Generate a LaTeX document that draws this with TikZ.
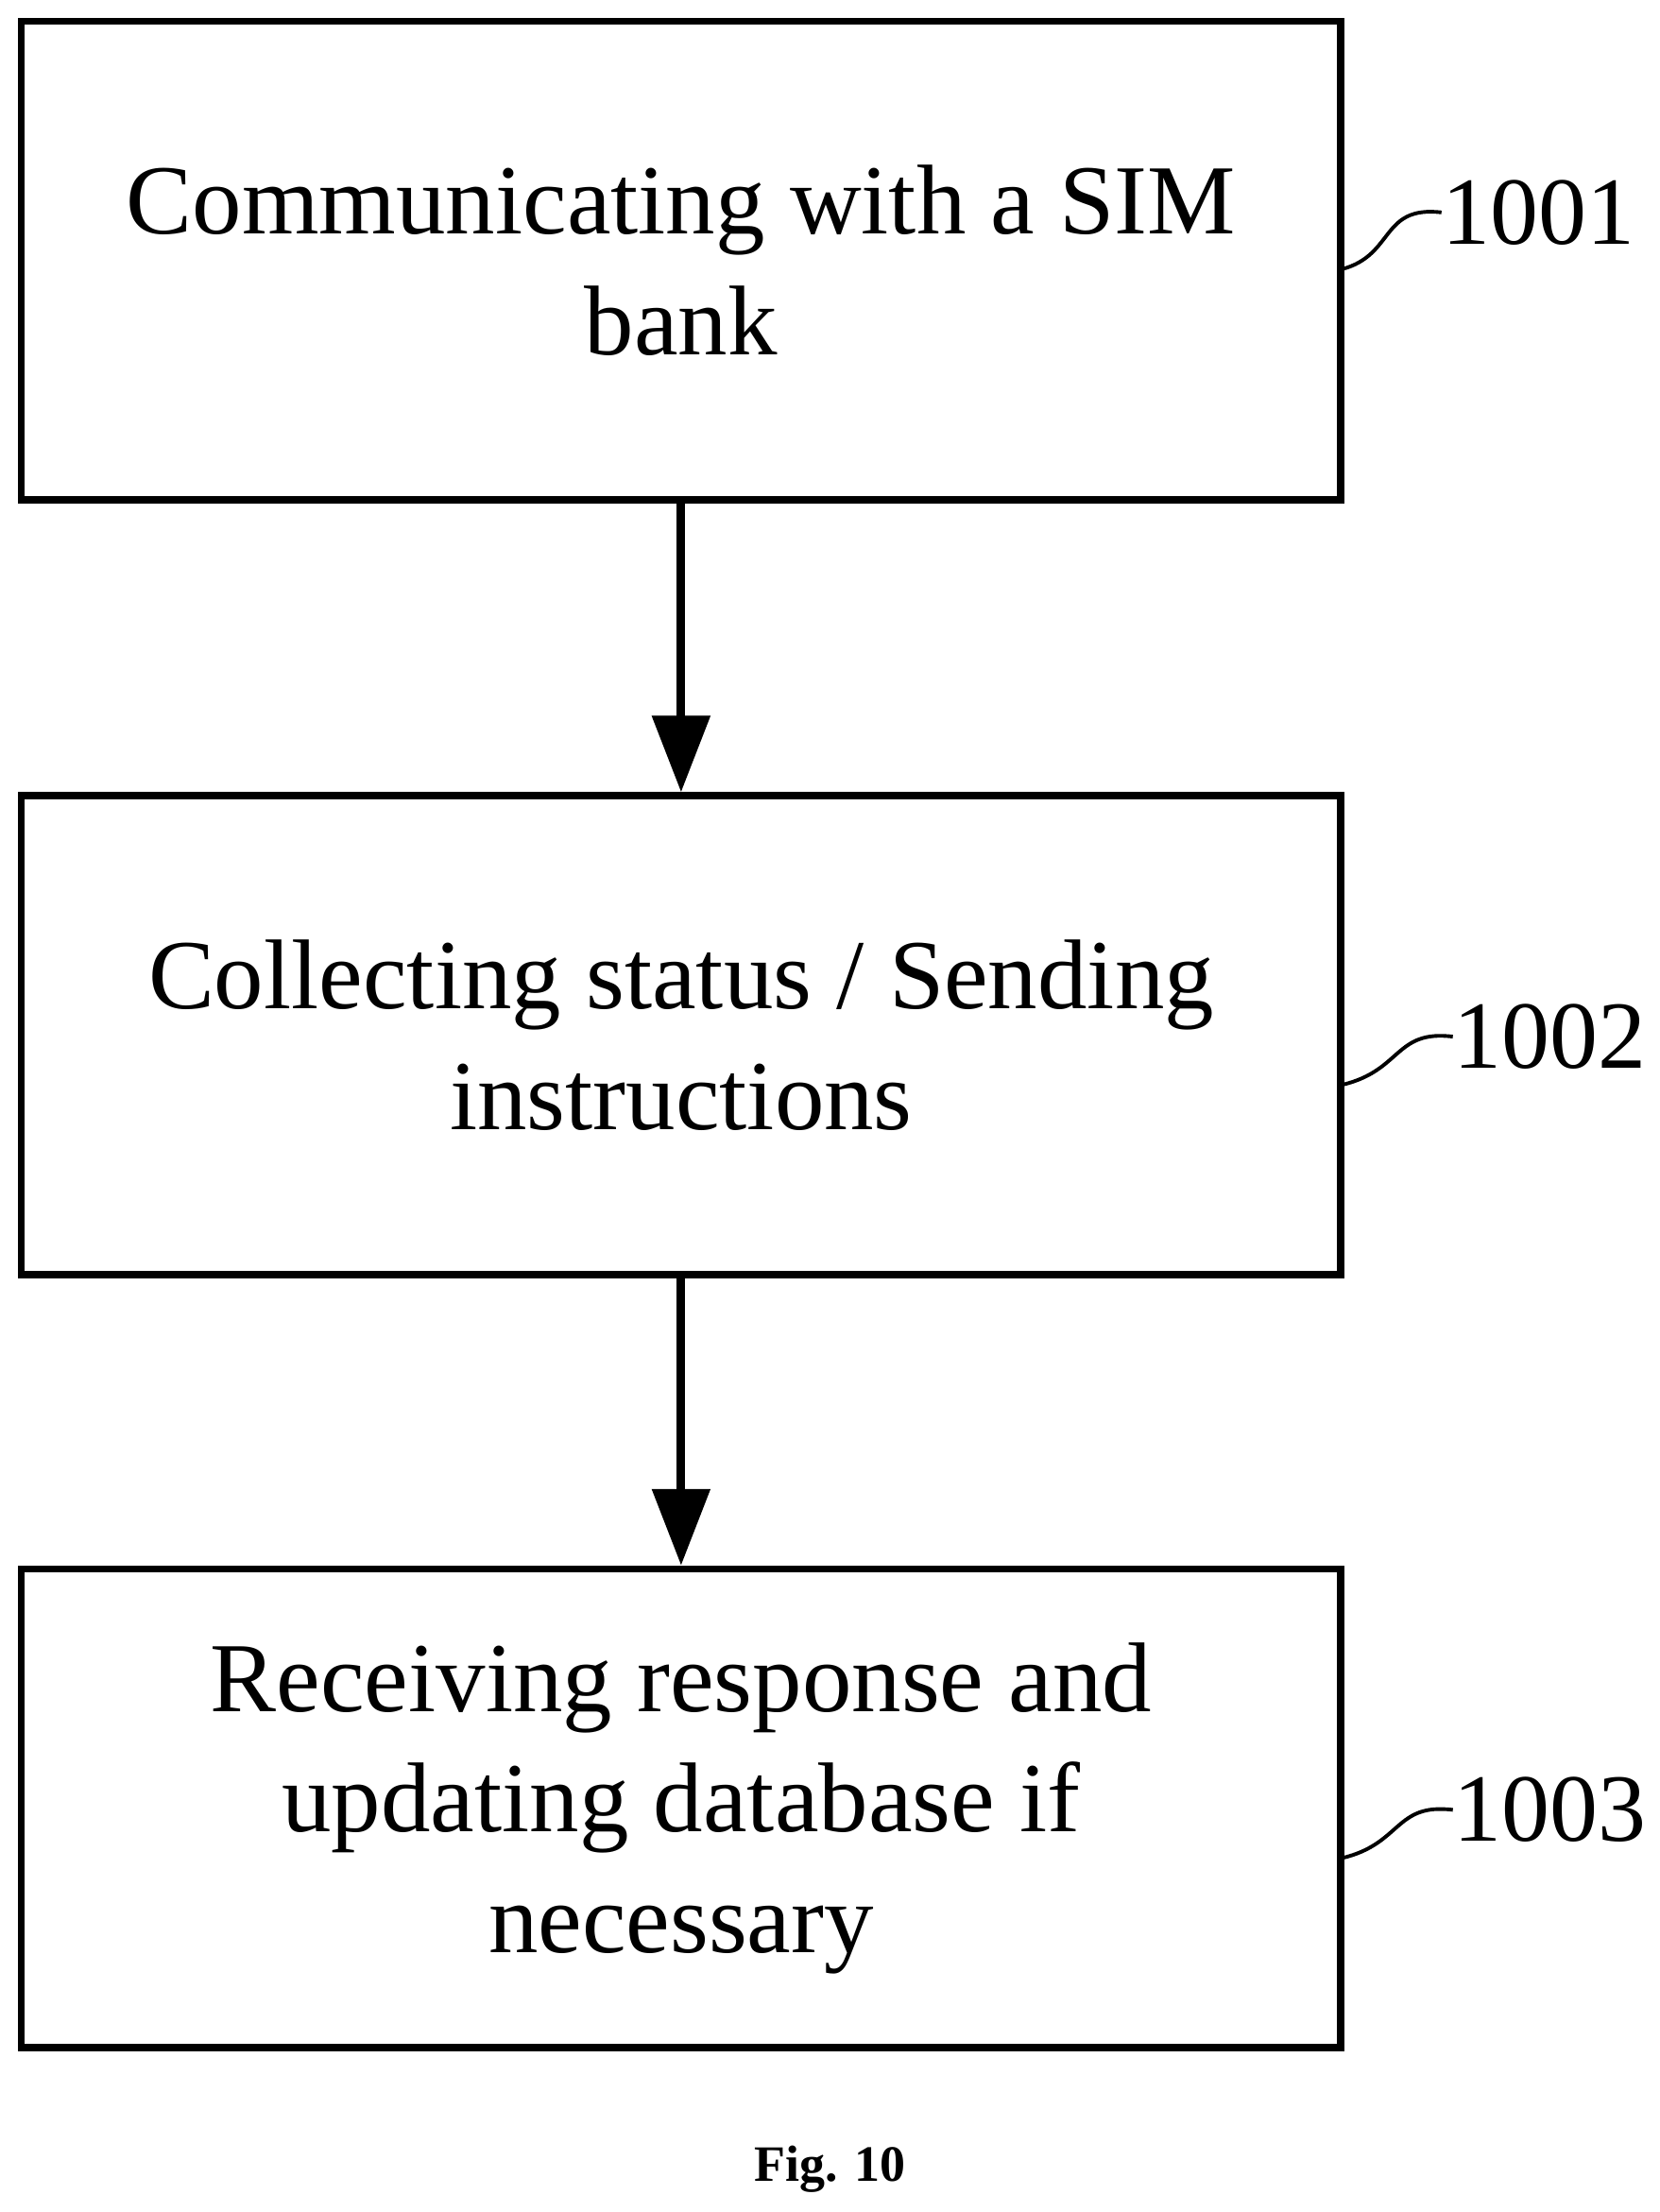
\documentclass[tikz,border=0pt]{standalone}
\usepackage{fontspec}
\setmainfont{Liberation Serif}
\usetikzlibrary{arrows.meta}

\tikzset{
  stage/.style={draw, line width=2.6pt, minimum width=466pt, minimum height=169pt,
    align=center, font=\fontsize{35}{42.5}\selectfont, inner sep=0pt},
  flow/.style={line width=3pt, -{Triangle[length=27pt,width=20pt]}},
  tag/.style={font=\fontsize{34}{40}\selectfont, anchor=west, inner sep=0pt},
  leader/.style={line width=1.3pt}
}

\begin{document}
\begin{tikzpicture}[x=0.5pt,y=0.5pt,yscale=-1,xscale=1]
				\useasboundingbox (0,0) rectangle (1172,1562);

				% Boxes
				\node[stage] (s1) at (481,184) {Communicating with a SIM\\bank};
				\node[stage] (s2) at (481,731) {Collecting status / Sending\\instructions};
				\node[stage] (s3) at (481,1277) {Receiving response and\\updating database if\\necessary};

				% Arrows
				\draw[flow] (s1.south) -- (s2.north);
				\draw[flow] (s2.south) -- (s3.north);

				% Step numbers
				\node[tag] (t1) at (1018,150) {1001};
				\node[tag] (t2) at (1026,732) {1002};
				\node[tag] (t3) at (1026,1278) {1003};
				\coordinate (c1) at (948,190);
				\coordinate (c2) at (948,766);
				\coordinate (c3) at (948,1312);
				\draw[leader] (c1) .. controls (985,180) and (975,145) .. (t1.west);
				\draw[leader] (c2) .. controls (990,756) and (985,727) .. (t2.west);
				\draw[leader] (c3) .. controls (990,1302) and (985,1273) .. (t3.west);

				% Caption
				\node[font=\bfseries\fontsize{18}{21}\selectfont] (cap) at (586,1532) {Fig. 10};
\end{tikzpicture}
\end{document}
